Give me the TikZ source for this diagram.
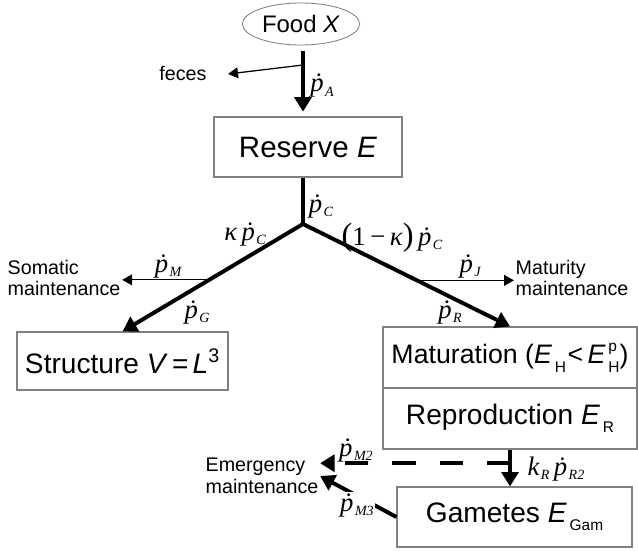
\documentclass[tikz,border=0pt]{standalone}
\usepackage{fontspec}
\setmainfont{Liberation Sans}
\newfontfamily\serif{Liberation Serif}
\usetikzlibrary{arrows.meta, shapes.geometric, calc}

\newcommand{\sub}[1]{\kern1pt\raisebox{-3pt}{\fontsize{10}{11}\selectfont #1}}
\newcommand{\rate}[1]{{\serif\itshape\fontsize{19}{22}\selectfont\.{p}\sub{#1}}}
\newcommand{\lo}[1]{\kern2pt\raisebox{-6pt}{\fontsize{11}{12}\selectfont #1}}
\newcommand{\hi}[1]{\kern2pt\raisebox{9pt}{\fontsize{11}{12}\selectfont #1}}

\begin{document}
\begin{tikzpicture}[x=0.025cm, y=-0.025cm,
	pool/.style={draw=gray, line width=0.8pt, inner sep=0pt, font=\fontsize{20}{24}\selectfont},
	flow/.style={line width=2.8pt, -{Triangle[length=0.36cm, width=0.42cm]}},
	loss/.style={line width=0.9pt, -{Triangle[length=0.25cm, width=0.27cm]}},
	lbl/.style={font=\fontsize{14}{15.5}\selectfont, align=left, inner sep=1pt},
	]
	\useasboundingbox (0,0) rectangle (638,551);

	\node[pool, ellipse, line width=0.6pt, minimum width=2.93cm, minimum height=1.05cm, font=\fontsize{17}{20}\selectfont] (food) at (301,24) {Food \textit{X}};
	\node[pool, minimum width=4.7cm, minimum height=1.5cm, font=\fontsize{21}{24}\selectfont] (reserve) at (308,147) {Reserve \textit{E}};
	\node[pool, minimum width=5.275cm, minimum height=1.45cm] (structure) at (122.5,361) {Structure \textit{V}\kern3pt=\kern3pt\textit{L}\textsuperscript{3}};
	\node[pool, minimum width=6.35cm, minimum height=1.525cm, font=\fontsize{19}{22}\selectfont] (matur) at (510,357.5) {Maturation (\textit{E}\lo{H}\kern1pt<\,\textit{E}\rlap{\hi{p}}\lo{H})};
	\node[pool, minimum width=6.35cm, minimum height=1.525cm] (repro) at (510,418.5) {Reproduction \textit{E}\lo{R}};
	\node[pool, minimum width=5.875cm, minimum height=1.5cm] (gametes) at (514.5,517) {Gametes \textit{E}\lo{Gam}};

	\node[lbl] (feces) at (183,73) {feces};
	\node[lbl, anchor=west] (somatic) at (6,278) {Somatic\\maintenance};
	\node[lbl, anchor=west] (maturity) at (514,278) {Maturity\\maintenance};
	\node[lbl, anchor=west] (emergency) at (204,476) {Emergency\\maintenance};

	\coordinate (split) at (303,224);
	\coordinate (fecesfork) at (303,65);
	\coordinate (fecesend) at (228,74);
	\coordinate (somfork) at ($(split)!0.52!(structure.north)$);
	\coordinate (matfork) at ($(split)!0.55!(matur.north)$);
	\coordinate (dashfork) at ($(repro.south)!0.37!(repro.south |- gametes.north)$);

	\draw[flow, shorten <=0.15cm, shorten >=0.12cm] (food.south -| split) -- (reserve.north -| split);
	\draw[loss] (fecesfork) -- (fecesend);
	\draw[line width=2.8pt] (reserve.south -| split) -- (split);
	\draw[flow] (split) -- (structure.north);
	\draw[flow] (split) -- (matur.north);
	\draw[loss] (somfork) -- (somfork -| somatic.east);
	\draw[loss] (matfork) -- (matfork -| maturity.west);
	\draw[flow] (repro.south) -- (repro.south |- gametes.north);
	\draw[flow, dash pattern=on 0.58cm off 0.6cm] (dashfork) -- (dashfork -| emergency.east);
	\draw[flow] (gametes.west) -- (emergency.east);

	\node (pa) at (322,86) {\rate{A}};
	\node (pc) at (321,206) {\rate{C}};
	\node (kpc) at (245,234) {{\serif\itshape\fontsize{19}{22}\selectfont κ\,}\rate{C}};
	\node (omkpc) at (392,238) {{\serif\fontsize{19}{22}\selectfont{\fontsize{23}{24}\selectfont(}1\,−\,\textit{κ}{\fontsize{23}{24}\selectfont)}\,}\rate{C}};
	\node (pm) at (168,266) {\rate{M}};
	\node (pg) at (197,312) {\rate{G}};
	\node (pj) at (470,266) {\rate{J}};
	\node (pr) at (450,312) {\rate{R}};
	\node (kr) at (556,469) {{\serif\itshape\fontsize{19}{22}\selectfont k\sub{R}\,}\rate{R2}};
	\node (pm2) at (356,450) {\rate{M2}};
	\node[fill=white, inner sep=1pt] (pm3) at (357,505) {\rate{M3}};

\end{tikzpicture}
\end{document}
